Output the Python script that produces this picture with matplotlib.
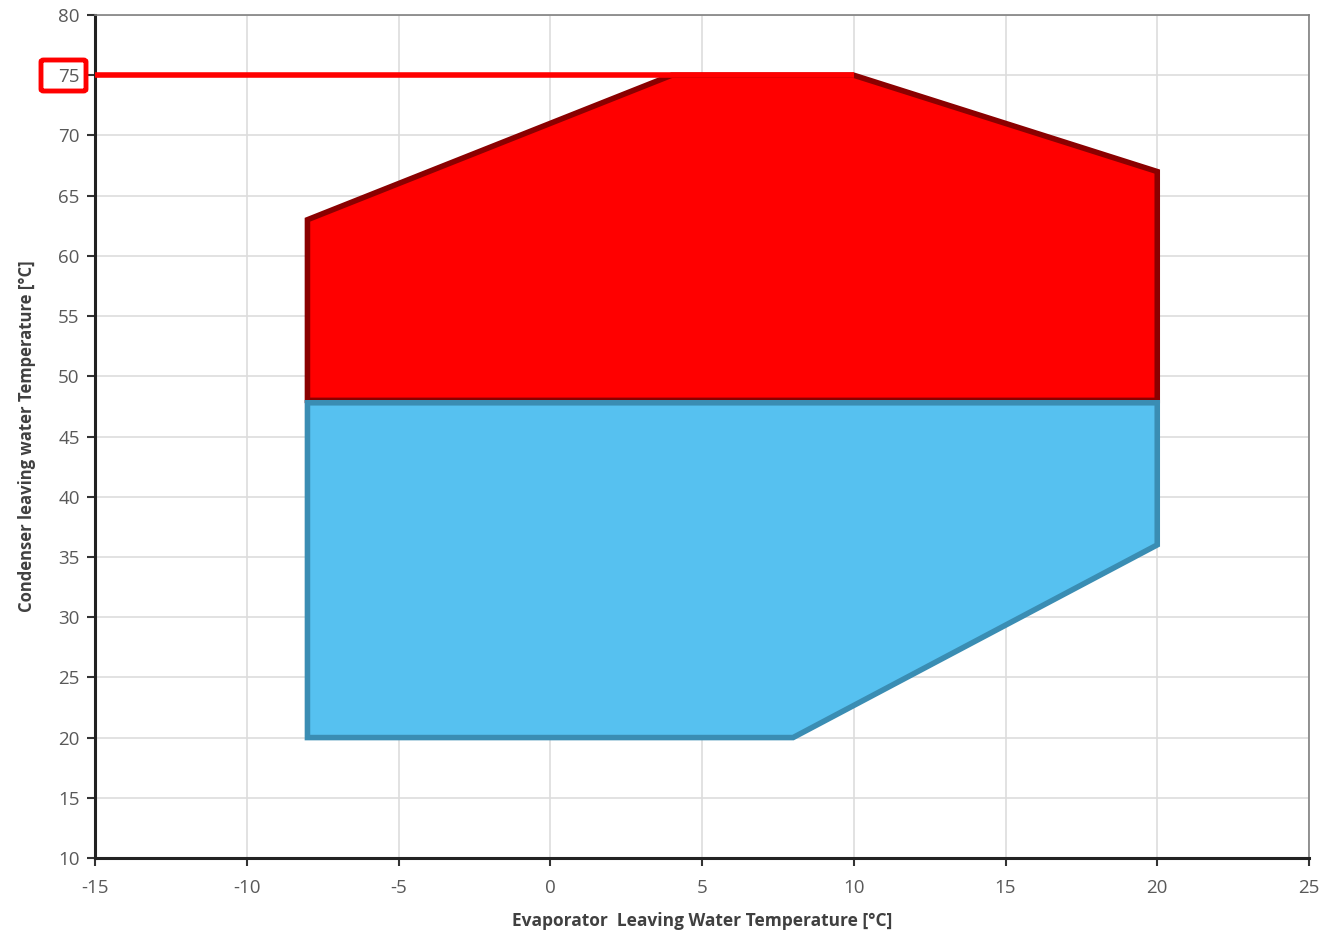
import matplotlib.pyplot as plt
from matplotlib.patches import Polygon, FancyBboxPatch

plt.rcParams['font.family'] = ['Open Sans', 'DejaVu Sans']
plt.rcParams['axes.unicode_minus'] = False

# envelope corners (evaporator LWT, condenser LWT)
red_x = [-8, -8, 4, 10, 20, 20]
red_y = [48, 63, 75, 75, 67, 48]
blue_x = [-8, -8, 20, 20, 8]
blue_y = [20, 47.8, 47.8, 36, 20]

limit_x = [-15, 10]
limit_y = [75, 75]

x_ticks = list(range(-15, 30, 5))
y_ticks = list(range(10, 85, 5))

fig = plt.figure(figsize=(13.26, 9.34), dpi=100)
ax = fig.add_axes([95/1326, 1 - 858/934, (1309 - 95)/1326, (858 - 15)/934])

ax.set_xlim(-15, 25)
ax.set_ylim(10, 80)
ax.set_xticks(x_ticks)
ax.set_yticks(y_ticks)
ax.grid(True, color='#dddddd', linewidth=1.2)
ax.set_axisbelow(True)

# red envelope
ax.add_patch(Polygon(list(zip(red_x, red_y)), closed=True, facecolor='#ff0000',
                     edgecolor='#8a0000', linewidth=4, joinstyle='miter', zorder=3))
# blue envelope
ax.add_patch(Polygon(list(zip(blue_x, blue_y)), closed=True, facecolor='#56c1f0',
                     edgecolor='#3a8db3', linewidth=4, joinstyle='miter', zorder=4))

ax.plot(limit_x, limit_y, color='#ff0000', linewidth=4, solid_capstyle='butt',
        zorder=5, clip_on=False)

for s in ['top', 'right']:
    ax.spines[s].set_color('#808080')
    ax.spines[s].set_linewidth(1.2)
for s in ['left', 'bottom']:
    ax.spines[s].set_color('#222222')
    ax.spines[s].set_linewidth(2.2)

ax.tick_params(axis='both', direction='out', length=6, width=1.5, color='#333333',
               labelsize=13.5, labelcolor='#595959')
ax.tick_params(axis='x', pad=9)
ax.tick_params(axis='y', pad=5)

ax.set_xlabel('Evaporator  Leaving Water Temperature [°C]', fontsize=12.5,
              fontweight='bold', color='#404040', labelpad=11)
ax.set_ylabel('Condenser leaving water Temperature [°C]', fontsize=12,
              fontweight='bold', color='#404040', labelpad=16)

# highlight box around the 75 label
fig.patches.append(FancyBboxPatch((41/1326, 1 - 91/934), 45/1326, 31/934,
                                  boxstyle='round,pad=0,rounding_size=0.002',
                                  transform=fig.transFigure, fill=False,
                                  edgecolor='#ff0000', linewidth=3.5))

fig.savefig('out.png', dpi=100)
